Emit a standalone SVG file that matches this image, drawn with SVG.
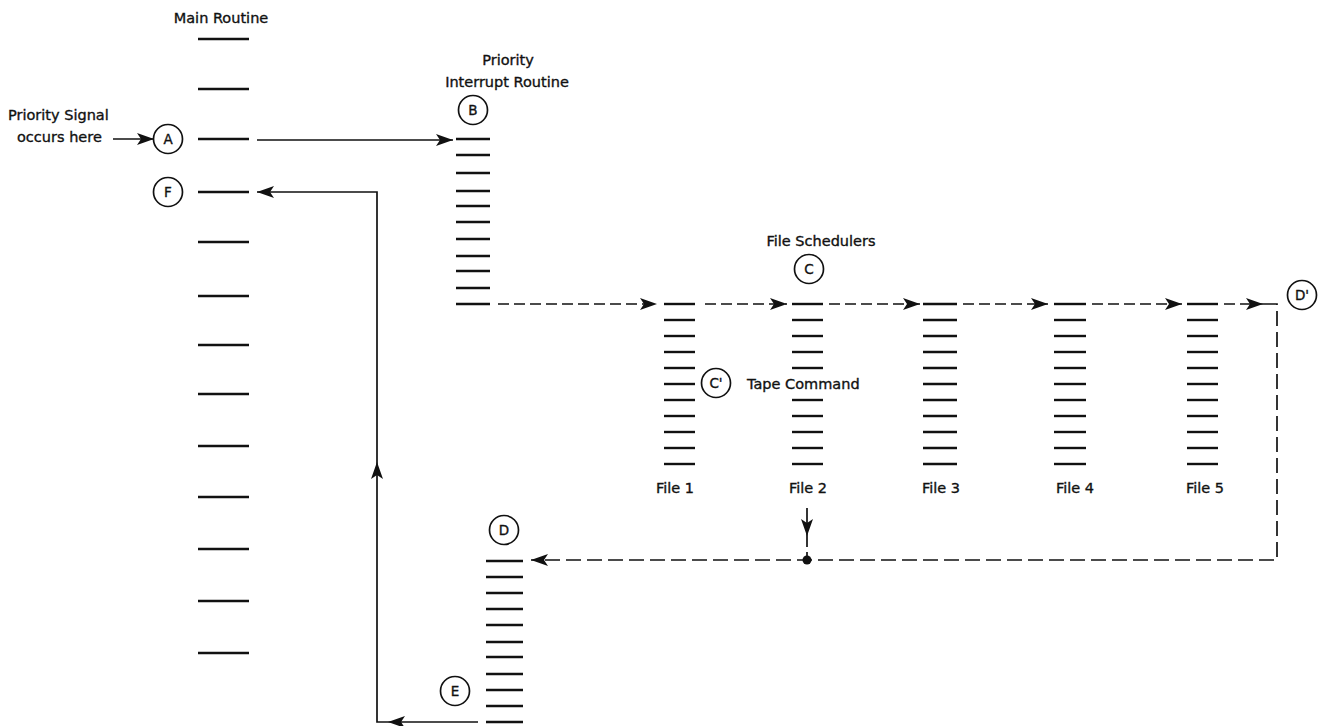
<svg xmlns="http://www.w3.org/2000/svg" width="1322" height="726" viewBox="0 0 1322 726">
<style>
text{font-family:"DejaVu Sans","Liberation Sans",sans-serif;font-size:14.5px;fill:#111;stroke:#111;stroke-width:0.35}
.c text{text-anchor:middle;font-size:13.5px}
.c circle{fill:#fff;stroke:#111;stroke-width:1.7}
.bar line{stroke:#111;stroke-width:2.4}
.conn path,.conn line{fill:none;stroke:#111;stroke-width:1.7}
.dash{stroke-dasharray:11 5}
.dash2{stroke-dasharray:15 6}
.lbl{text-anchor:middle}
</style>
<defs>
<marker id="ah" markerUnits="userSpaceOnUse" markerWidth="18" markerHeight="12" refX="17" refY="6" orient="auto">
<path d="M0,0 L17,6 L0,12 L4,6 Z" fill="#111"/>
</marker>
</defs>

<g id="main-routine" class="bar">
<text class="lbl" x="221" y="23">Main Routine</text>
<line x1="198" y1="39" x2="249" y2="39"/>
<line x1="198" y1="89" x2="249" y2="89"/>
<line x1="198" y1="139" x2="249" y2="139"/>
<line x1="198" y1="192" x2="249" y2="192"/>
<line x1="198" y1="242" x2="249" y2="242"/>
<line x1="198" y1="296" x2="249" y2="296"/>
<line x1="198" y1="345" x2="249" y2="345"/>
<line x1="198" y1="394" x2="249" y2="394"/>
<line x1="198" y1="446" x2="249" y2="446"/>
<line x1="198" y1="497" x2="249" y2="497"/>
<line x1="198" y1="549" x2="249" y2="549"/>
<line x1="198" y1="601" x2="249" y2="601"/>
<line x1="198" y1="653" x2="249" y2="653"/>
</g>

<g id="signal-label">
<text x="8" y="120">Priority Signal</text>
<text x="17" y="142">occurs here</text>
</g>

<g id="node-A" class="c"><circle cx="168" cy="139" r="14.5"/><text x="168" y="144">A</text></g>
<g id="node-F" class="c"><circle cx="168" cy="192" r="14.5"/><text x="168" y="197">F</text></g>

<g id="priority-interrupt" class="bar">
<text class="lbl" x="508" y="65">Priority</text>
<text class="lbl" x="507" y="87">Interrupt Routine</text>
<line x1="456" y1="139" x2="490" y2="139"/>
<line x1="456" y1="155" x2="490" y2="155"/>
<line x1="456" y1="173" x2="490" y2="173"/>
<line x1="456" y1="191" x2="490" y2="191"/>
<line x1="456" y1="206" x2="490" y2="206"/>
<line x1="456" y1="222" x2="490" y2="222"/>
<line x1="456" y1="239" x2="490" y2="239"/>
<line x1="456" y1="256" x2="490" y2="256"/>
<line x1="456" y1="271" x2="490" y2="271"/>
<line x1="456" y1="288" x2="490" y2="288"/>
<line x1="456" y1="304" x2="490" y2="304"/>
</g>
<g id="node-B" class="c"><circle cx="473" cy="110" r="14.5"/><text x="473" y="115">B</text></g>

<g id="file1" class="bar">
<line x1="664" y1="304" x2="695" y2="304"/>
<line x1="664" y1="320" x2="695" y2="320"/>
<line x1="664" y1="336" x2="695" y2="336"/>
<line x1="664" y1="352" x2="695" y2="352"/>
<line x1="664" y1="368" x2="695" y2="368"/>
<line x1="664" y1="384" x2="695" y2="384"/>
<line x1="664" y1="400" x2="695" y2="400"/>
<line x1="664" y1="416" x2="695" y2="416"/>
<line x1="664" y1="432" x2="695" y2="432"/>
<line x1="664" y1="448" x2="695" y2="448"/>
<line x1="664" y1="464" x2="695" y2="464"/>
<text class="lbl" x="675" y="493">File 1</text>
</g>
<g id="file2" class="bar">
<line x1="792" y1="304" x2="823" y2="304"/>
<line x1="792" y1="320" x2="823" y2="320"/>
<line x1="792" y1="336" x2="823" y2="336"/>
<line x1="792" y1="352" x2="823" y2="352"/>
<line x1="792" y1="368" x2="823" y2="368"/>
<line x1="792" y1="400" x2="823" y2="400"/>
<line x1="792" y1="416" x2="823" y2="416"/>
<line x1="792" y1="432" x2="823" y2="432"/>
<line x1="792" y1="448" x2="823" y2="448"/>
<line x1="792" y1="464" x2="823" y2="464"/>
<text class="lbl" x="808" y="493">File 2</text>
</g>
<g id="file3" class="bar">
<line x1="923" y1="304" x2="957" y2="304"/>
<line x1="923" y1="320" x2="957" y2="320"/>
<line x1="923" y1="336" x2="957" y2="336"/>
<line x1="923" y1="352" x2="957" y2="352"/>
<line x1="923" y1="368" x2="957" y2="368"/>
<line x1="923" y1="384" x2="957" y2="384"/>
<line x1="923" y1="400" x2="957" y2="400"/>
<line x1="923" y1="416" x2="957" y2="416"/>
<line x1="923" y1="432" x2="957" y2="432"/>
<line x1="923" y1="448" x2="957" y2="448"/>
<line x1="923" y1="464" x2="957" y2="464"/>
<text class="lbl" x="941" y="493">File 3</text>
</g>
<g id="file4" class="bar">
<line x1="1054" y1="304" x2="1086" y2="304"/>
<line x1="1054" y1="320" x2="1086" y2="320"/>
<line x1="1054" y1="336" x2="1086" y2="336"/>
<line x1="1054" y1="352" x2="1086" y2="352"/>
<line x1="1054" y1="368" x2="1086" y2="368"/>
<line x1="1054" y1="384" x2="1086" y2="384"/>
<line x1="1054" y1="400" x2="1086" y2="400"/>
<line x1="1054" y1="416" x2="1086" y2="416"/>
<line x1="1054" y1="432" x2="1086" y2="432"/>
<line x1="1054" y1="448" x2="1086" y2="448"/>
<line x1="1054" y1="464" x2="1086" y2="464"/>
<text class="lbl" x="1075" y="493">File 4</text>
</g>
<g id="file5" class="bar">
<line x1="1187" y1="304" x2="1218" y2="304"/>
<line x1="1187" y1="320" x2="1218" y2="320"/>
<line x1="1187" y1="336" x2="1218" y2="336"/>
<line x1="1187" y1="352" x2="1218" y2="352"/>
<line x1="1187" y1="368" x2="1218" y2="368"/>
<line x1="1187" y1="384" x2="1218" y2="384"/>
<line x1="1187" y1="400" x2="1218" y2="400"/>
<line x1="1187" y1="416" x2="1218" y2="416"/>
<line x1="1187" y1="432" x2="1218" y2="432"/>
<line x1="1187" y1="448" x2="1218" y2="448"/>
<line x1="1187" y1="464" x2="1218" y2="464"/>
<text class="lbl" x="1205" y="493">File 5</text>
</g>

<g id="file-schedulers-label"><text class="lbl" x="821" y="246">File Schedulers</text></g>
<g id="node-C" class="c"><circle cx="809" cy="269" r="14.5"/><text x="809" y="274">C</text></g>
<g id="node-Cp" class="c"><circle cx="716" cy="383" r="14.5"/><text x="716" y="388">C'</text></g>
<g id="tape-command-label"><text x="747" y="389">Tape Command</text></g>
<g id="node-Dp" class="c"><circle cx="1302" cy="295" r="14.5"/><text x="1302" y="300">D'</text></g>

<g id="routine-D" class="bar">
<line x1="486" y1="561" x2="523" y2="561"/>
<line x1="486" y1="577" x2="523" y2="577"/>
<line x1="486" y1="593" x2="523" y2="593"/>
<line x1="486" y1="609" x2="523" y2="609"/>
<line x1="486" y1="625" x2="523" y2="625"/>
<line x1="486" y1="642" x2="523" y2="642"/>
<line x1="486" y1="657" x2="523" y2="657"/>
<line x1="486" y1="674" x2="523" y2="674"/>
<line x1="486" y1="690" x2="523" y2="690"/>
<line x1="486" y1="706" x2="523" y2="706"/>
<line x1="486" y1="722" x2="523" y2="722"/>
</g>
<g id="node-D" class="c"><circle cx="504" cy="530" r="14.5"/><text x="504" y="535">D</text></g>
<g id="node-E" class="c"><circle cx="455" cy="691" r="14.5"/><text x="455" y="696">E</text></g>

<g id="connectors" class="conn">
<line x1="113" y1="139" x2="154" y2="139" marker-end="url(#ah)"/>
<line x1="257" y1="140" x2="453" y2="140" marker-end="url(#ah)"/>
<line class="dash" x1="498" y1="304" x2="657" y2="304" marker-end="url(#ah)"/>
<line class="dash" x1="705" y1="304" x2="787" y2="304" marker-end="url(#ah)"/>
<line class="dash" x1="829" y1="304" x2="920" y2="304" marker-end="url(#ah)"/>
<line class="dash" x1="963" y1="304" x2="1048" y2="304" marker-end="url(#ah)"/>
<line class="dash" x1="1092" y1="304" x2="1182" y2="304" marker-end="url(#ah)"/>
<line class="dash" x1="1224" y1="304" x2="1263" y2="304" marker-end="url(#ah)"/>
<path class="dash2" d="M1263 304 H1277 V560 H531" marker-end="url(#ah)"/>
<line x1="807" y1="508" x2="807" y2="536" marker-end="url(#ah)"/>
<line class="dash" x1="807" y1="536" x2="807" y2="560"/>
<circle cx="807" cy="560" r="4.5" fill="#111" stroke="none"/>
<line x1="478" y1="722" x2="388" y2="722" marker-end="url(#ah)"/>
<path d="M388 722 H377 V462" marker-end="url(#ah)"/>
<path d="M377 462 V192 H257" marker-end="url(#ah)"/>
</g>
</svg>
